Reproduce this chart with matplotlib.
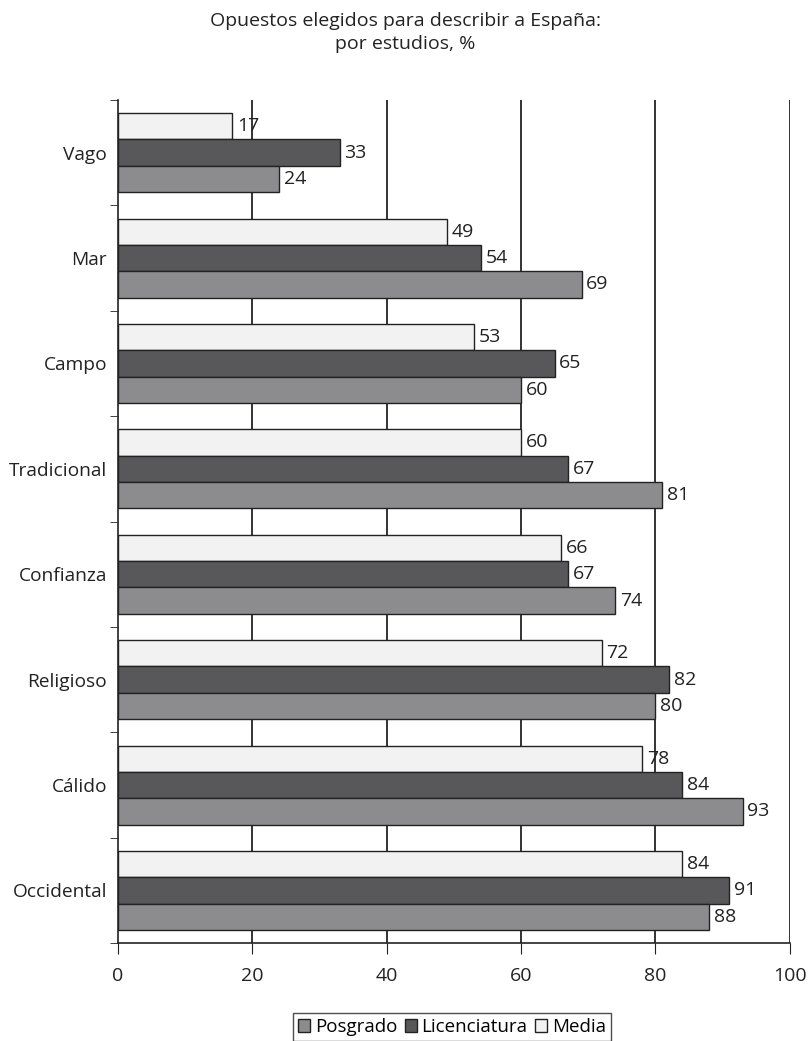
import matplotlib
matplotlib.use("Agg")
import matplotlib.pyplot as plt
import numpy as np

plt.rcParams['font.family'] = ['Open Sans', 'DejaVu Sans']

categorias = ["Vago", "Mar", "Campo", "Tradicional", "Confianza",
              "Religioso", "Cálido", "Occidental"]
media = [17, 49, 53, 60, 66, 72, 78, 84]
licenciatura = [33, 54, 65, 67, 67, 82, 84, 91]
posgrado = [24, 69, 60, 81, 74, 80, 93, 88]

fig = plt.figure(figsize=(8.1, 10.41), dpi=100)
ax = fig.add_axes([0.1457, 0.094, 0.8293, 0.81])

y = np.arange(len(categorias))
h = 0.25
series = [
    (media, -h, "#f2f2f2", "Media"),
    (licenciatura, 0, "#58585a", "Licenciatura"),
    (posgrado, h, "#8c8c8f", "Posgrado"),
]
bars = {}
for vals, off, col, lab in series:
    b = ax.barh(y + off, vals, height=h, color=col, edgecolor="#222222",
                linewidth=1.0, label=lab, zorder=3)
    bars[lab] = b
    for yi, v in zip(y + off, vals):
        ax.text(v + 0.7, yi, str(v), va="center", ha="left", fontsize=14,
                color="#222222", zorder=4)

ax.set_xlim(0, 100)
ax.set_ylim(len(categorias) - 0.55, -0.5)
ax.set_xticks([0, 20, 40, 60, 80, 100])
ax.set_yticks(y)
ax.set_yticklabels(categorias, fontsize=13.8, color="#222222")
ax.set_yticks(np.arange(-0.5, len(categorias), 1), minor=True)
ax.tick_params(axis="y", which="major", length=0, pad=8)
ax.tick_params(axis="y", which="minor", length=6, direction="out", color="#222222")
ax.tick_params(axis="x", length=8, direction="out", labelsize=14,
               colors="#222222", pad=9)

for xv in [20, 40, 60, 80, 100]:
    ax.axvline(xv, color="#111111", linewidth=1.2, zorder=1)

ax.spines["top"].set_visible(False)
ax.spines["right"].set_visible(False)
for s in ["left", "bottom"]:
    ax.spines[s].set_color("#222222")
    ax.spines[s].set_linewidth(1.2)

fig.suptitle("Opuestos elegidos para describir a España:\npor estudios, %",
             y=0.988, fontsize=14, color="#222222", linespacing=1.35)

handles = [bars["Posgrado"], bars["Licenciatura"], bars["Media"]]
leg = fig.legend(handles, ["Posgrado", "Licenciatura", "Media"],
                 loc="center", bbox_to_anchor=(0.558, 0.0135), ncol=3,
                 fontsize=13.5, frameon=True, fancybox=False,
                 handlelength=0.65, handleheight=0.65, handletextpad=0.25,
                 columnspacing=0.4, borderpad=0.25, borderaxespad=0)
leg.get_frame().set_edgecolor("#222222")
leg.get_frame().set_linewidth(1.0)

fig.savefig("out.png", dpi=100)
